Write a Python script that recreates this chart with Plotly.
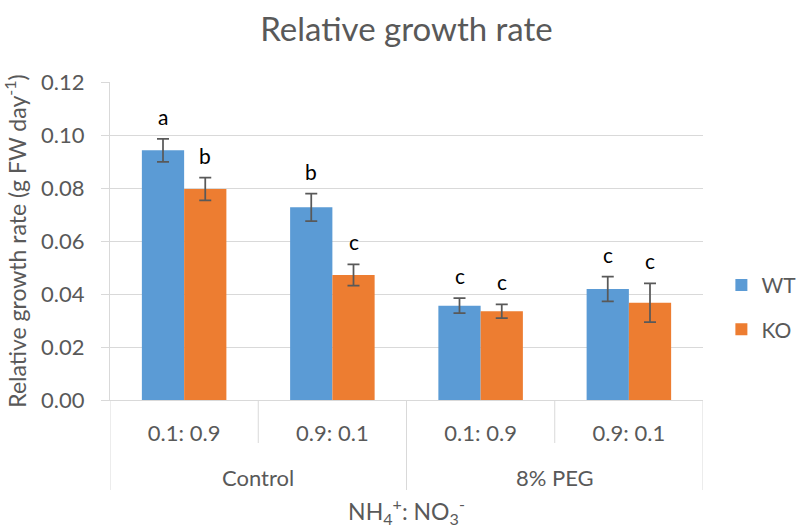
import plotly.graph_objects as go

groups = ["Control", "8% PEG"]
ratios = ["0.1: 0.9", "0.9: 0.1", "0.1: 0.9", "0.9: 0.1"]
wt_vals = [0.0942, 0.0727, 0.0356, 0.0419]
wt_err = [0.0043, 0.0052, 0.0028, 0.0047]
ko_vals = [0.0796, 0.0472, 0.0335, 0.0367]
ko_err = [0.0043, 0.0040, 0.0026, 0.0073]
wt_letters = ["a", "b", "c", "c"]
ko_letters = ["b", "c", "c", "c"]
yticks = [0.00, 0.02, 0.04, 0.06, 0.08, 0.10, 0.12]

FONT = "Lato"
GRAY = "#595959"
GRID = "#D9D9D9"
BARGAP = 0.43

xpos = list(range(len(ratios)))

fig = go.Figure()
fig.add_trace(go.Bar(
    x=xpos, y=wt_vals, name="WT", marker_color="#5B9BD5",
    marker_line_width=0, legendgroup="wt",
    error_y=dict(type="data", array=wt_err, color=GRAY, thickness=1.75, width=6),
))
fig.add_trace(go.Bar(
    x=xpos, y=ko_vals, name="KO", marker_color="#ED7D31",
    marker_line_width=0, legendgroup="ko",
    error_y=dict(type="data", array=ko_err, color=GRAY, thickness=1.75, width=6),
))

off = (1 - BARGAP) / 4
annotations = []
for i in xpos:
    for vals, errs, letters, sgn in ((wt_vals, wt_err, wt_letters, -1), (ko_vals, ko_err, ko_letters, 1)):
        annotations.append(dict(
            x=i + sgn * off, y=vals[i] + errs[i], xref="x", yref="y",
            text=letters[i], showarrow=False, yanchor="bottom", yshift=8,
            font=dict(family=FONT, size=21, color="black"),
        ))

# outer group labels (each group spans two ratio categories)
n_inner = len(ratios) // len(groups)
for g, name in enumerate(groups):
    center = g * n_inner + (n_inner - 1) / 2
    annotations.append(dict(
        x=center, y=0, xref="x", yref="paper", text=name, showarrow=False,
        yanchor="middle", yshift=-77, font=dict(family=FONT, size=22, color=GRAY),
    ))

shapes = []
for b in range(len(ratios) + 1):
    outer = (b % n_inner == 0)
    shapes.append(dict(
        type="line", xref="x", yref="paper", ysizemode="pixel", yanchor=0,
        x0=b - 0.5, x1=b - 0.5, y0=0, y1=-90 if outer else -43,
        line=dict(color=GRID, width=1),
    ))

fig.update_layout(
    width=797, height=528,
    paper_bgcolor="white", plot_bgcolor="white",
    margin=dict(l=110, r=94, t=82, b=128, autoexpand=False),
    bargap=BARGAP, barmode="group",
    title=dict(text="Relative growth rate", x=0.5, xref="paper", y=1 - 29 / 528, yanchor="middle",
               font=dict(family=FONT, size=33, color=GRAY)),
    font=dict(family=FONT, color=GRAY, size=21),
    legend=dict(x=1.031, xanchor="left", y=0.425, yanchor="top",
                font=dict(family=FONT, size=21, color=GRAY),
                traceorder="grouped", tracegroupgap=14, bgcolor="rgba(0,0,0,0)"),
    annotations=annotations,
    shapes=shapes,
    yaxis=dict(
        range=[0, 0.12], tickvals=yticks, tickformat=".2f",
        showgrid=True, gridcolor=GRID, gridwidth=1,
        showline=True, linecolor=GRID, linewidth=1,
        ticks="outside", ticklen=8, tickcolor=GRID,
        ticklabelstandoff=12,
        tickfont=dict(family=FONT, size=22, color=GRAY),
        zeroline=False,
        title=dict(text="Relative growth rate (g FW day<sup>-1</sup>)", standoff=8,
                   font=dict(family=FONT, size=23, color=GRAY)),
    ),
    xaxis=dict(
        range=[-0.5, len(ratios) - 0.5],
        tickvals=xpos, ticktext=ratios,
        showline=True, linecolor=GRID, linewidth=1,
        ticks="", showgrid=False, zeroline=False,
        ticklabelstandoff=14,
        tickfont=dict(family=FONT, size=22, color=GRAY),
        title=dict(text="NH<sub>4</sub><sup>+</sup>: NO<sub>3</sub><sup>-</sup>", standoff=66,
                   font=dict(family=FONT, size=23, color=GRAY)),
    ),
)

fig.write_html("out.html")
